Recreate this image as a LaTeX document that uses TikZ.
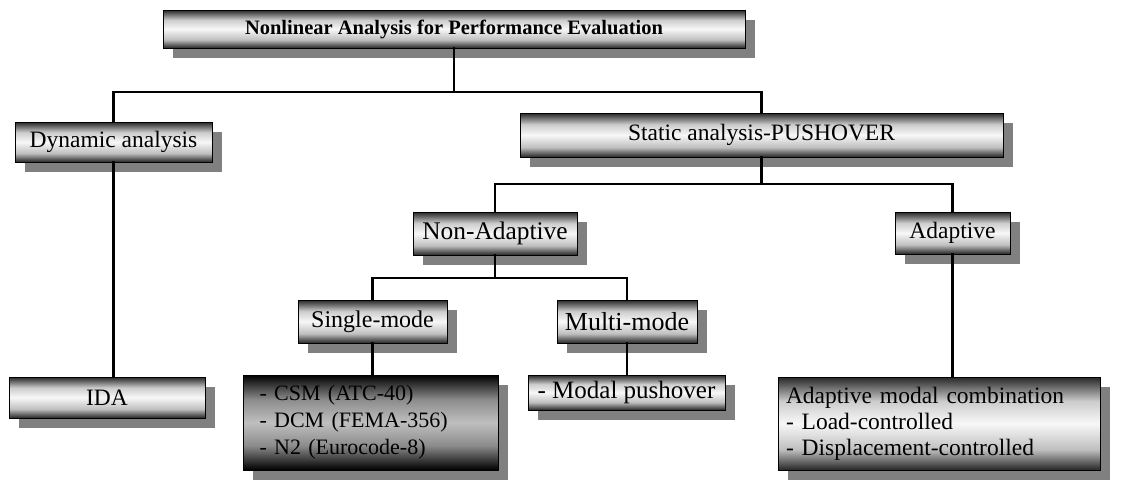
\documentclass[tikz,border=0pt]{standalone}
\usepackage{fontspec}
\setmainfont{Liberation Serif}
\usetikzlibrary{shadows}
\newcommand{\fsz}[1]{\fontsize{#1}{26}\selectfont}
\pgfdeclareverticalshading{lightsh}{100bp}{color(0bp)=(black!85); color(25bp)=(black!85); color(36bp)=(black!25); color(50bp)=(black!3); color(62bp)=(black!20); color(75bp)=(black!85); color(100bp)=(black!85)}
\pgfdeclareverticalshading{darksh}{100bp}{color(0bp)=(black); color(25bp)=(black); color(38bp)=(black!45); color(50bp)=(black!25); color(62bp)=(black!45); color(75bp)=(black); color(100bp)=(black)}
\begin{document}
\begin{tikzpicture}[x=1pt,y=1pt,
  box/.style={draw=black, line width=1pt, rectangle, inner sep=0pt,
    shade, shading=lightsh,
    drop shadow={shadow xshift=10pt, shadow yshift=-10pt, fill=black!50, opacity=1},
    font=\fsz{23.5}},
  darkbox/.style={box, shading=darksh},
  conn/.style={line width=2.6pt, line cap=rect}]
\useasboundingbox (0,0) rectangle (1132,-482);
\node[box, minimum width=582pt, minimum height=38pt, font=\fontsize{20.5}{24}\selectfont\bfseries] (top) at (454,-29) {Nonlinear Analysis for Performance Evaluation};
\node[box, minimum width=197pt, minimum height=40pt] (dyn) at (113.5,-142) {Dynamic analysis};
\node[box, minimum width=483pt, minimum height=44pt] (stat) at (761.5,-135) {Static analysis-PUSHOVER};
\node[box, minimum width=164pt, minimum height=43pt, font=\fsz{25.4}] (nonad) at (495,-233.5) {Non-Adaptive};
\node[box, minimum width=115pt, minimum height=42pt] (adap) at (952.5,-233) {Adaptive};
\node[box, minimum width=149pt, minimum height=43pt, font=\fsz{24}] (single) at (372.5,-321.5) {Single-mode};
\node[box, minimum width=140pt, minimum height=43pt, font=\fsz{26}] (multi) at (627,-321.5) {Multi-mode};
\node[box, minimum width=196pt, minimum height=41pt] (ida) at (107,-397.5) {IDA};
\node[darkbox, minimum width=255pt, minimum height=95pt, text width=222pt, align=left, font=\fontsize{22}{27}\selectfont] (csm) at (370.5,-422.5) {- CSM (ATC-40)\\- DCM (FEMA-356)\\- N2 (Eurocode-8)};
\node[box, minimum width=197pt, minimum height=35pt, font=\fsz{25}] (modal) at (626.5,-392.5) {- Modal pushover};
\node[box, minimum width=322pt, minimum height=93pt, text width=306pt, align=left] (adcomb) at (939,-423.5) {Adaptive modal combination\\- Load-controlled\\- Displacement-controlled};
\coordinate (j1) at (454,-92);
\coordinate (j2) at (761.5,-184);
\coordinate (j3) at (495,-278);
\draw[conn] (top.south) -- (j1);
\draw[conn] (dyn.north) |- (j1) -| (stat.north);
\draw[conn] (stat.south) -- (j2);
\draw[conn] (nonad.north) |- (j2) -| (adap.north);
\draw[conn] (nonad.south) -- (j3);
\draw[conn] (single.north) |- (j3) -| (multi.north);
\draw[conn] (dyn.south) -- (dyn.south |- ida.north);
\draw[conn] (single.south) -- (single.south |- csm.north);
\draw[conn] (multi.south) -- (multi.south |- modal.north);
\draw[conn] (adap.south) -- (adap.south |- adcomb.north);
\end{tikzpicture}
\end{document}
